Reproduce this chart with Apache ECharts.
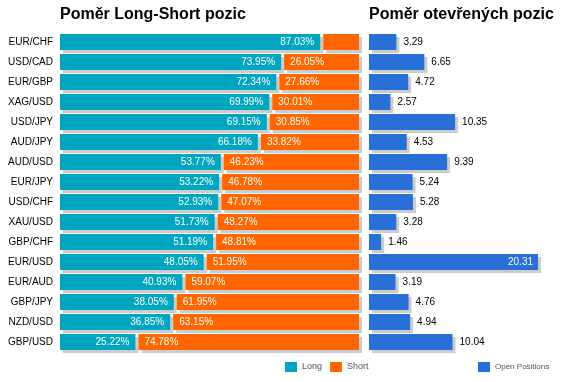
<!DOCTYPE html>
<html>
<head>
<meta charset="utf-8">
<script src="https://cdn.jsdelivr.net/npm/echarts@6/dist/echarts.min.js"></script>
<style>html,body{margin:0;padding:0;background:#fff;}#c{width:566px;height:382px;}</style>
</head>
<body>
<div id="c"></div>
<script>
var categories = ['EUR/CHF','USD/CAD','EUR/GBP','XAG/USD','USD/JPY','AUD/JPY','AUD/USD','EUR/JPY','USD/CHF','XAU/USD','GBP/CHF','EUR/USD','EUR/AUD','GBP/JPY','NZD/USD','GBP/USD'];
var longValues = [87.03,73.95,72.34,69.99,69.15,66.18,53.77,53.22,52.93,51.73,51.19,48.05,40.93,38.05,36.85,25.22];
var shortValues = [12.97,26.05,27.66,30.01,30.85,33.82,46.23,46.78,47.07,48.27,48.81,51.95,59.07,61.95,63.15,74.78];
var openPositions = [3.29,6.65,4.72,2.57,10.35,4.53,9.39,5.24,5.28,3.28,1.46,20.31,3.19,4.76,4.94,10.04];

var LONG_C = '#00A6C0', SHORT_C = '#FF6600', OPEN_C = '#2870D8', SHADOW_C = '#CCCCCC';
var BAR_H = 16, SH_X = 3, SH_Y = 3, GAP = 3;
var FONT = '10px Arial';

function textWidth(t){
  var c = document.createElement('canvas').getContext('2d');
  c.font = FONT; return c.measureText(t).width;
}

function rectPair(x0, x1, yc, color){
  var y = yc - BAR_H/2, w = Math.max(0, x1 - x0);
  return [
    {type:'rect', shape:{x:x0+SH_X, y:y+SH_Y, width:w, height:BAR_H}, style:{fill:SHADOW_C}},
    {type:'rect', shape:{x:x0, y:y, width:w, height:BAR_H}, style:{fill:color}}
  ];
}

function renderLong(params, api){
  var idx = api.value(0), v = api.value(1);
  var p0 = api.coord([0, idx]), p1 = api.coord([v, idx]);
  var ch = rectPair(p0[0], p1[0], p0[1], LONG_C);
  var t = v.toFixed(2) + '%';
  ch.push({type:'text', style:{text:t, x:p1[0]-6, y:p0[1], fill:'#fff', font:FONT, textAlign:'right', align:'right', textVerticalAlign:'middle', verticalAlign:'middle'}});
  return {type:'group', children:ch};
}
function renderShort(params, api){
  var idx = api.value(0), lv = api.value(1), sv = api.value(2);
  var p0 = api.coord([lv, idx]), p1 = api.coord([lv + sv, idx]);
  var x0 = p0[0] + GAP;
  var ch = rectPair(x0, p1[0], p0[1], SHORT_C);
  var t = sv.toFixed(2) + '%';
  if (p1[0] - x0 > textWidth(t) + 10) {
    ch.push({type:'text', style:{text:t, x:x0+6, y:p0[1], fill:'#fff', font:FONT, textAlign:'left', align:'left', textVerticalAlign:'middle', verticalAlign:'middle'}});
  }
  return {type:'group', children:ch};
}
function renderOpen(params, api){
  var idx = api.value(0), v = api.value(1);
  var p0 = api.coord([0, idx]), p1 = api.coord([v, idx]);
  var ch = rectPair(p0[0], p1[0], p0[1], OPEN_C);
  var t = v.toFixed(2);
  var right = params.coordSys.x + params.coordSys.width;
  if (p1[0] + SH_X + 7 + textWidth(t) > right + 20) {
    ch.push({type:'text', style:{text:t, x:p1[0]-5, y:p0[1], fill:'#fff', font:FONT, textAlign:'right', align:'right', textVerticalAlign:'middle', verticalAlign:'middle'}});
  } else {
    ch.push({type:'text', style:{text:t, x:p1[0]+SH_X+4, y:p0[1], fill:'#000', font:FONT, textAlign:'left', align:'left', textVerticalAlign:'middle', verticalAlign:'middle'}});
  }
  return {type:'group', children:ch};
}

var chart = echarts.init(document.getElementById('c'), null, {renderer:'canvas'});
var option = {
  animation: false,
  backgroundColor: '#fff',
  title: [
    {text:'Poměr Long-Short pozic', left:60, top:7, padding:0, textStyle:{fontFamily:'Arial', fontSize:16, fontWeight:'bold', color:'#000'}},
    {text:'Poměr otevřených pozic', left:369, top:7, padding:0, textStyle:{fontFamily:'Arial', fontSize:16, fontWeight:'bold', color:'#000'}}
  ],
  legend: [
    {data:['Long','Short'], left:285, top:362, padding:0, icon:'rect', itemWidth:12, itemHeight:10, itemGap:8, textStyle:{fontFamily:'Arial', fontSize:9, color:'#555'}, selectedMode:false},
    {data:['Open Positions'], left:478, top:362, padding:0, icon:'rect', itemWidth:12, itemHeight:10, textStyle:{fontFamily:'Arial', fontSize:8, color:'#555'}, selectedMode:false}
  ],
  grid: [
    {left:60, width:299, top:32, height:320},
    {left:369, width:169, top:32, height:320}
  ],
  xAxis: [
    {gridIndex:0, type:'value', min:0, max:100, show:false},
    {gridIndex:1, type:'value', min:0, max:20.31, show:false}
  ],
  yAxis: [
    {gridIndex:0, type:'category', data:categories, inverse:true, axisLine:{show:false}, axisTick:{show:false}, splitLine:{show:false},
     axisLabel:{fontFamily:'Arial', fontSize:10, color:'#000', margin:7}},
    {gridIndex:1, type:'category', data:categories, inverse:true, show:false}
  ],
  series: [
    {name:'Long', type:'custom', xAxisIndex:0, yAxisIndex:0, itemStyle:{color:LONG_C}, renderItem:renderLong,
     encode:{x:1, y:0}, data:categories.map(function(c,i){return [i, longValues[i]];})},
    {name:'Short', type:'custom', xAxisIndex:0, yAxisIndex:0, itemStyle:{color:SHORT_C}, renderItem:renderShort,
     encode:{x:[1,2], y:0}, data:categories.map(function(c,i){return [i, longValues[i], shortValues[i]];})},
    {name:'Open Positions', type:'custom', xAxisIndex:1, yAxisIndex:1, itemStyle:{color:OPEN_C}, renderItem:renderOpen,
     encode:{x:1, y:0}, data:categories.map(function(c,i){return [i, openPositions[i]];})}
  ]
};
chart.setOption(option);
</script>
</body>
</html>
